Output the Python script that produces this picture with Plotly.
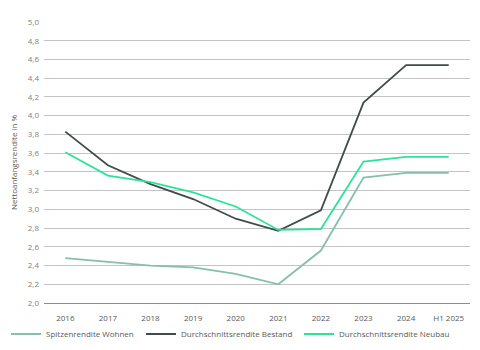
import plotly.graph_objects as go

categories = ["2016", "2017", "2018", "2019", "2020", "2021", "2022", "2023", "2024", "H1 2025"]
spitzen = [2.48, 2.44, 2.40, 2.38, 2.31, 2.20, 2.56, 3.34, 3.39, 3.39]
bestand = [3.83, 3.47, 3.27, 3.11, 2.90, 2.77, 2.99, 4.14, 4.54, 4.54]
neubau = [3.61, 3.36, 3.29, 3.18, 3.03, 2.78, 2.79, 3.51, 3.56, 3.56]

names = ["Spitzenrendite Wohnen", "Durchschnittsrendite Bestand", "Durchschnittsrendite Neubau"]
colors = ["#86bfaa", "#414b4b", "#2de39b"]
legend_ids = ["legend", "legend2", "legend3"]
legend_x = [6, 141, 299]

fig = go.Figure()
for name, vals, col, lid in zip(names, [spitzen, bestand, neubau], colors, legend_ids):
    fig.add_trace(go.Scatter(x=categories, y=vals, name=name, mode="lines",
                             line=dict(color=col, width=1.8), legend=lid))

legend_common = dict(orientation="h", xref="container", yref="container",
                     xanchor="left", y=16/350, yanchor="middle",
                     font=dict(size=8, color="#595959"), itemwidth=30,
                     bgcolor="rgba(0,0,0,0)")
legends = {lid: dict(legend_common, x=lx/480) for lid, lx in zip(legend_ids, legend_x)}

fig.update_layout(
    width=480, height=350,
    margin=dict(l=44, r=10, t=22, b=47, autoexpand=False),
    paper_bgcolor="white", plot_bgcolor="white",
    font=dict(family="Open Sans", size=8, color="#595959"),
    separators=",.",
    showlegend=True,
    xaxis=dict(type="category", range=[-0.5, 9.5], showgrid=False,
               showline=True, linecolor="#8c8c8c", linewidth=1, ticks="",
               tickfont=dict(size=8, color="#595959"), ticklabelstandoff=7),
    yaxis=dict(range=[2.0, 5.0], dtick=0.2, tickformat=".1f", showgrid=True,
               gridcolor="#c4c4c4", gridwidth=1, zeroline=False,
               title=dict(text="Nettoanfangsrendite in %", font=dict(size=8, color="#595959"), standoff=8),
               tickfont=dict(size=8, color="#7f7f7f"), ticklabelstandoff=4),
    **legends,
)

fig.write_html("out.html")
